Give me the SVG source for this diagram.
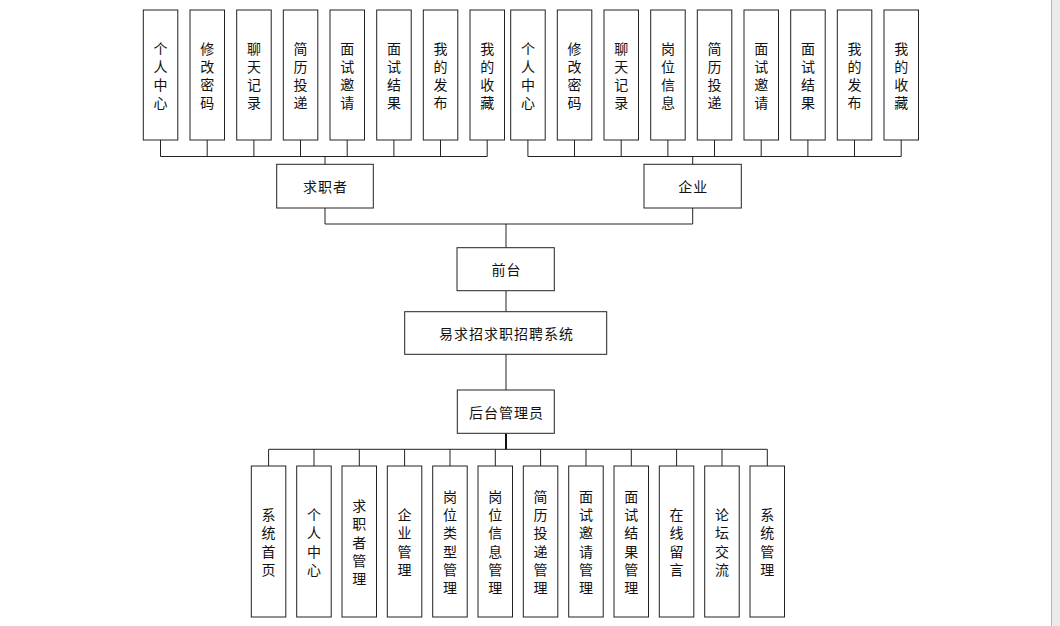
<svg xmlns="http://www.w3.org/2000/svg" width="1060" height="626" viewBox="0 0 1060 626">
<style>
.box{fill:#fff;stroke:#222;stroke-width:1}
.c{fill:none;stroke:#222;stroke-width:1}
.cb{fill:none;stroke:#111;stroke-width:2}
text{font-family:"Noto Sans CJK SC","Liberation Sans",sans-serif;font-size:14px;fill:#111;text-anchor:middle;dominant-baseline:central}
.h{letter-spacing:1px}
</style>
<rect x="0" y="0" width="1060" height="626" fill="#fff"/>
<rect x="1051" y="0" width="9" height="626" fill="#ebebeb"/>
<line x1="1051.5" y1="0" x2="1051.5" y2="626" stroke="#b4b4b4" stroke-width="1"/>
<g id="connectors">
<path class="c" d="M160.5 140V156.5M207.2 140V156.5M253.9 140V156.5M300.5 140V156.5M347.2 140V156.5M393.9 140V156.5M440.5 140V156.5M487.2 140V156.5M160.5 156.5H487.2M325 156.5V164.3"/>
<path class="c" d="M527.9 140V156.5M574.5 140V156.5M621.2 140V156.5M667.9 140V156.5M714.5 140V156.5M761.2 140V156.5M807.9 140V156.5M854.5 140V156.5M901.2 140V156.5M527.9 156.5H901.2M692.7 156.5V164.3"/>
<path class="c" d="M325 208V224H692.7V208M506 224V247.7M506 290.7V311.7M506 354.3V390"/>
<path class="cb" d="M506 433.3V449.3"/>
<path class="c" d="M268.6 449.3H767.3M268.6 449.3V466M314 449.3V466M359.3 449.3V466M404.6 449.3V466M450 449.3V466M495.3 449.3V466M540.6 449.3V466M586 449.3V466M631.3 449.3V466M676.6 449.3V466M722 449.3V466M767.3 449.3V466"/>
</g>
<g id="s1"><rect class="box" x="143.3" y="10" width="34.5" height="130"/><text><tspan x="160.5" y="48">个</tspan><tspan x="160.5" y="66">人</tspan><tspan x="160.5" y="84">中</tspan><tspan x="160.5" y="102">心</tspan></text></g>
<g id="s2"><rect class="box" x="190" y="10" width="34.5" height="130"/><text><tspan x="207.2" y="48">修</tspan><tspan x="207.2" y="66">改</tspan><tspan x="207.2" y="84">密</tspan><tspan x="207.2" y="102">码</tspan></text></g>
<g id="s3"><rect class="box" x="236.7" y="10" width="34.5" height="130"/><text><tspan x="253.9" y="48">聊</tspan><tspan x="253.9" y="66">天</tspan><tspan x="253.9" y="84">记</tspan><tspan x="253.9" y="102">录</tspan></text></g>
<g id="s4"><rect class="box" x="283.3" y="10" width="34.5" height="130"/><text><tspan x="300.5" y="48">简</tspan><tspan x="300.5" y="66">历</tspan><tspan x="300.5" y="84">投</tspan><tspan x="300.5" y="102">递</tspan></text></g>
<g id="s5"><rect class="box" x="330" y="10" width="34.5" height="130"/><text><tspan x="347.2" y="48">面</tspan><tspan x="347.2" y="66">试</tspan><tspan x="347.2" y="84">邀</tspan><tspan x="347.2" y="102">请</tspan></text></g>
<g id="s6"><rect class="box" x="376.7" y="10" width="34.5" height="130"/><text><tspan x="393.9" y="48">面</tspan><tspan x="393.9" y="66">试</tspan><tspan x="393.9" y="84">结</tspan><tspan x="393.9" y="102">果</tspan></text></g>
<g id="s7"><rect class="box" x="423.3" y="10" width="34.5" height="130"/><text><tspan x="440.5" y="48">我</tspan><tspan x="440.5" y="66">的</tspan><tspan x="440.5" y="84">发</tspan><tspan x="440.5" y="102">布</tspan></text></g>
<g id="s8"><rect class="box" x="470" y="10" width="34.5" height="130"/><text><tspan x="487.2" y="48">我</tspan><tspan x="487.2" y="66">的</tspan><tspan x="487.2" y="84">收</tspan><tspan x="487.2" y="102">藏</tspan></text></g>
<g id="e1"><rect class="box" x="510.7" y="10" width="34.5" height="130"/><text><tspan x="527.9" y="48">个</tspan><tspan x="527.9" y="66">人</tspan><tspan x="527.9" y="84">中</tspan><tspan x="527.9" y="102">心</tspan></text></g>
<g id="e2"><rect class="box" x="557.3" y="10" width="34.5" height="130"/><text><tspan x="574.5" y="48">修</tspan><tspan x="574.5" y="66">改</tspan><tspan x="574.5" y="84">密</tspan><tspan x="574.5" y="102">码</tspan></text></g>
<g id="e3"><rect class="box" x="604" y="10" width="34.5" height="130"/><text><tspan x="621.2" y="48">聊</tspan><tspan x="621.2" y="66">天</tspan><tspan x="621.2" y="84">记</tspan><tspan x="621.2" y="102">录</tspan></text></g>
<g id="e4"><rect class="box" x="650.7" y="10" width="34.5" height="130"/><text><tspan x="667.9" y="48">岗</tspan><tspan x="667.9" y="66">位</tspan><tspan x="667.9" y="84">信</tspan><tspan x="667.9" y="102">息</tspan></text></g>
<g id="e5"><rect class="box" x="697.3" y="10" width="34.5" height="130"/><text><tspan x="714.5" y="48">简</tspan><tspan x="714.5" y="66">历</tspan><tspan x="714.5" y="84">投</tspan><tspan x="714.5" y="102">递</tspan></text></g>
<g id="e6"><rect class="box" x="744" y="10" width="34.5" height="130"/><text><tspan x="761.2" y="48">面</tspan><tspan x="761.2" y="66">试</tspan><tspan x="761.2" y="84">邀</tspan><tspan x="761.2" y="102">请</tspan></text></g>
<g id="e7"><rect class="box" x="790.7" y="10" width="34.5" height="130"/><text><tspan x="807.9" y="48">面</tspan><tspan x="807.9" y="66">试</tspan><tspan x="807.9" y="84">结</tspan><tspan x="807.9" y="102">果</tspan></text></g>
<g id="e8"><rect class="box" x="837.3" y="10" width="34.5" height="130"/><text><tspan x="854.5" y="48">我</tspan><tspan x="854.5" y="66">的</tspan><tspan x="854.5" y="84">发</tspan><tspan x="854.5" y="102">布</tspan></text></g>
<g id="e9"><rect class="box" x="884" y="10" width="34.5" height="130"/><text><tspan x="901.2" y="48">我</tspan><tspan x="901.2" y="66">的</tspan><tspan x="901.2" y="84">收</tspan><tspan x="901.2" y="102">藏</tspan></text></g>
<g id="seeker"><rect class="box" x="276.7" y="164.3" width="96.6" height="43.7"/><text class="h" x="325.5" y="186.2">求职者</text></g>
<g id="company"><rect class="box" x="644" y="164.3" width="97.3" height="43.7"/><text class="h" x="693.2" y="186.2">企业</text></g>
<g id="front"><rect class="box" x="457" y="247.7" width="97.3" height="43"/><text class="h" x="506.5" y="269.2">前台</text></g>
<g id="system"><rect class="box" x="404.7" y="311.7" width="202" height="42.6"/><text class="h" x="506.5" y="333">易求招求职招聘系统</text></g>
<g id="admin"><rect class="box" x="457.3" y="390" width="97" height="43.3"/><text class="h" x="506.5" y="411.7">后台管理员</text></g>
<g id="a1"><rect class="box" x="251.3" y="466" width="34.5" height="151"/><text><tspan x="268.6" y="514">系</tspan><tspan x="268.6" y="532.3">统</tspan><tspan x="268.6" y="550.6">首</tspan><tspan x="268.6" y="568.9">页</tspan></text></g>
<g id="a2"><rect class="box" x="296.7" y="466" width="34.5" height="151"/><text><tspan x="314" y="514">个</tspan><tspan x="314" y="532.3">人</tspan><tspan x="314" y="550.6">中</tspan><tspan x="314" y="568.9">心</tspan></text></g>
<g id="a3"><rect class="box" x="342" y="466" width="34.5" height="151"/><text><tspan x="359.3" y="504.9">求</tspan><tspan x="359.3" y="523.2">职</tspan><tspan x="359.3" y="541.5">者</tspan><tspan x="359.3" y="559.8">管</tspan><tspan x="359.3" y="578.1">理</tspan></text></g>
<g id="a4"><rect class="box" x="387.3" y="466" width="34.5" height="151"/><text><tspan x="404.6" y="514">企</tspan><tspan x="404.6" y="532.3">业</tspan><tspan x="404.6" y="550.6">管</tspan><tspan x="404.6" y="568.9">理</tspan></text></g>
<g id="a5"><rect class="box" x="432.7" y="466" width="34.5" height="151"/><text><tspan x="450" y="495.7">岗</tspan><tspan x="450" y="514">位</tspan><tspan x="450" y="532.3">类</tspan><tspan x="450" y="550.6">型</tspan><tspan x="450" y="568.9">管</tspan><tspan x="450" y="587.2">理</tspan></text></g>
<g id="a6"><rect class="box" x="478" y="466" width="34.5" height="151"/><text><tspan x="495.3" y="495.7">岗</tspan><tspan x="495.3" y="514">位</tspan><tspan x="495.3" y="532.3">信</tspan><tspan x="495.3" y="550.6">息</tspan><tspan x="495.3" y="568.9">管</tspan><tspan x="495.3" y="587.2">理</tspan></text></g>
<g id="a7"><rect class="box" x="523.3" y="466" width="34.5" height="151"/><text><tspan x="540.6" y="495.7">简</tspan><tspan x="540.6" y="514">历</tspan><tspan x="540.6" y="532.3">投</tspan><tspan x="540.6" y="550.6">递</tspan><tspan x="540.6" y="568.9">管</tspan><tspan x="540.6" y="587.2">理</tspan></text></g>
<g id="a8"><rect class="box" x="568.7" y="466" width="34.5" height="151"/><text><tspan x="586" y="495.7">面</tspan><tspan x="586" y="514">试</tspan><tspan x="586" y="532.3">邀</tspan><tspan x="586" y="550.6">请</tspan><tspan x="586" y="568.9">管</tspan><tspan x="586" y="587.2">理</tspan></text></g>
<g id="a9"><rect class="box" x="614" y="466" width="34.5" height="151"/><text><tspan x="631.3" y="495.7">面</tspan><tspan x="631.3" y="514">试</tspan><tspan x="631.3" y="532.3">结</tspan><tspan x="631.3" y="550.6">果</tspan><tspan x="631.3" y="568.9">管</tspan><tspan x="631.3" y="587.2">理</tspan></text></g>
<g id="a10"><rect class="box" x="659.3" y="466" width="34.5" height="151"/><text><tspan x="676.6" y="514">在</tspan><tspan x="676.6" y="532.3">线</tspan><tspan x="676.6" y="550.6">留</tspan><tspan x="676.6" y="568.9">言</tspan></text></g>
<g id="a11"><rect class="box" x="704.7" y="466" width="34.5" height="151"/><text><tspan x="722" y="514">论</tspan><tspan x="722" y="532.3">坛</tspan><tspan x="722" y="550.6">交</tspan><tspan x="722" y="568.9">流</tspan></text></g>
<g id="a12"><rect class="box" x="750" y="466" width="34.5" height="151"/><text><tspan x="767.3" y="514">系</tspan><tspan x="767.3" y="532.3">统</tspan><tspan x="767.3" y="550.6">管</tspan><tspan x="767.3" y="568.9">理</tspan></text></g>
</svg>
